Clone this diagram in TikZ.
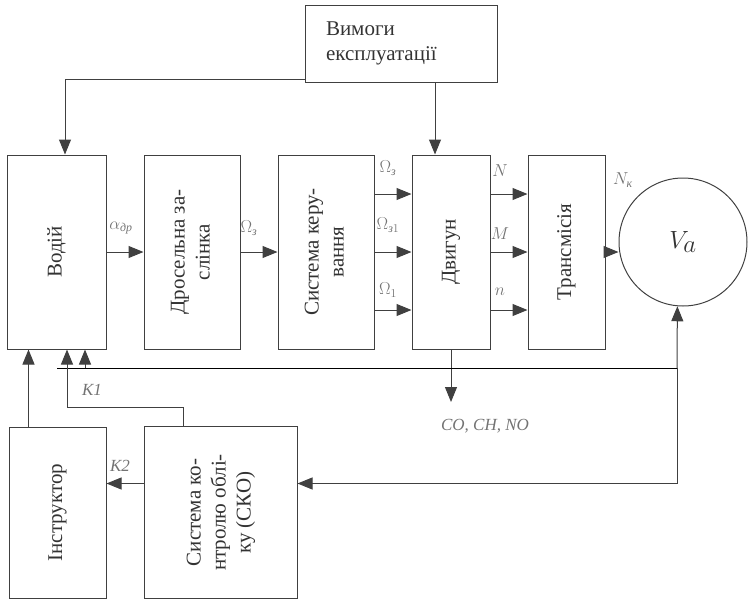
\documentclass[tikz,border=0pt]{standalone}
\usepackage{fontspec}
\usepackage{amsmath}
\setmainfont{Liberation Serif}
\usetikzlibrary{arrows.meta,positioning}

\begin{document}
\begin{tikzpicture}[x=1pt, y=-1pt, line width=1pt,
  every node/.style={font=\fontsize{21}{25}\selectfont, text=black!80}]
\tikzset{blk/.style={draw=black!75, minimum height=194pt, inner sep=0pt},
  arr/.style={draw=black!75, -{Triangle[length=15pt,width=12pt]}},
  lbl/.style={font=\fontsize{17}{19}\selectfont\itshape, text=black!55, inner sep=1pt}}
\useasboundingbox (0,0) rectangle (748,600);
\node[draw=black!75, minimum width=192pt, minimum height=77pt, text width=150pt, align=left]
  (req) at (401,43.5) {Вимоги\\експлуатації};
\node[blk, minimum width=99pt] (drv) at (56.5,252) {\rotatebox{90}{Водій}};
\node[blk, minimum width=96pt, right=37pt of drv] (thr)
  {\rotatebox{90}{\begin{tabular}{@{}c@{}}Дросельна за-\\слінка\end{tabular}}};
\node[blk, minimum width=96pt, right=37pt of thr] (sys)
  {\rotatebox{90}{\begin{tabular}{@{}c@{}}Система керу-\\вання\end{tabular}}};
\node[blk, minimum width=78pt, right=37pt of sys] (eng) {\rotatebox{90}{Двигун}};
\node[blk, minimum width=77pt, right=37pt of eng] (trn) {\rotatebox{90}{Трансмісія}};
\node[draw=black!75, circle, minimum size=128pt, inner sep=0pt] (va) at (683,242)
  {\fontsize{34}{34}\selectfont$V_a$};
\node[blk, minimum width=97pt, minimum height=171pt] (ins) at (57.5,512.5)
  {\rotatebox{90}{Інструктор}};
\node[blk, minimum width=153pt, minimum height=172pt, right=37pt of ins] (sko)
  {\rotatebox{90}{\begin{tabular}{@{}c@{}}Система ко-\\нтролю облі-\\ку (СКО)\end{tabular}}};
\coordinate (fbR) at (677,368);
\coordinate (fbL) at (57,368);
\coordinate (k1) at (67,407);
\coordinate (emisTip) at (448,402);

\node[lbl] (aDr) at (121,228) {$\alpha_{\text{др}}$};
\node[lbl] (omZ) at (249,228) {$\Omega_{\text{з}}$};
\node[lbl] (in1) at (388,168) {$\Omega_{\text{з}}$};
\node[lbl] (in2) at (388,225) {$\Omega_{\text{з}1}$};
\node[lbl] (in3) at (388,290) {$\Omega_1$};
\node[lbl] (outN) at (500,171) {$N$};
\node[lbl] (outM) at (500,234) {$M$};
\node[lbl] (outn) at (500,292) {$n$};
\node[lbl] (outNk) at (623,180) {$N_\text{к}$};
\node[lbl] (emis) at (485,426) {CO, CH, NO};
\node[lbl] (lK1) at (92,390) {K1};
\node[lbl] (lK2) at (120,466) {K2};

\draw[arr] ([yshift=-36pt]req.west) -| ([xshift=8.5pt]drv.north);
\draw[arr] ([xshift=-16pt]eng.north |- req.south) -- ([xshift=-16pt]eng.north);
\draw[arr] (drv) -- (thr);
\draw[arr] (thr) -- (sys);
\foreach \dy in {58,0,-58} {
  \draw[arr] ([yshift=\dy pt]sys.east) -- ([yshift=\dy pt]eng.west);
  \draw[arr] ([yshift=\dy pt]eng.east) -- ([yshift=\dy pt]trn.west);
}
\draw[arr] (trn.east) -- (trn.east -| va.west);
\draw[arr] (eng.south) -- (eng.south |- emisTip);
\draw[arr] (fbR) -- (va.-95);
\draw (fbR) -- (fbL);
\draw[arr] ([xshift=28.5pt]drv.south |- fbR) -- ([xshift=28.5pt]drv.south);
\draw[arr] (fbR) |- ([yshift=29pt]sko.east);
\draw[arr] ([xshift=-37.5pt]sko.north) |- (k1) -- (k1 |- drv.south);
\draw[arr] ([yshift=29pt]sko.west) -- ([yshift=29pt]sko.west -| ins.east);
\draw[arr] ([xshift=-29pt]ins.north) -- ([xshift=-29pt]ins.north |- drv.south);
\end{tikzpicture}
\end{document}
